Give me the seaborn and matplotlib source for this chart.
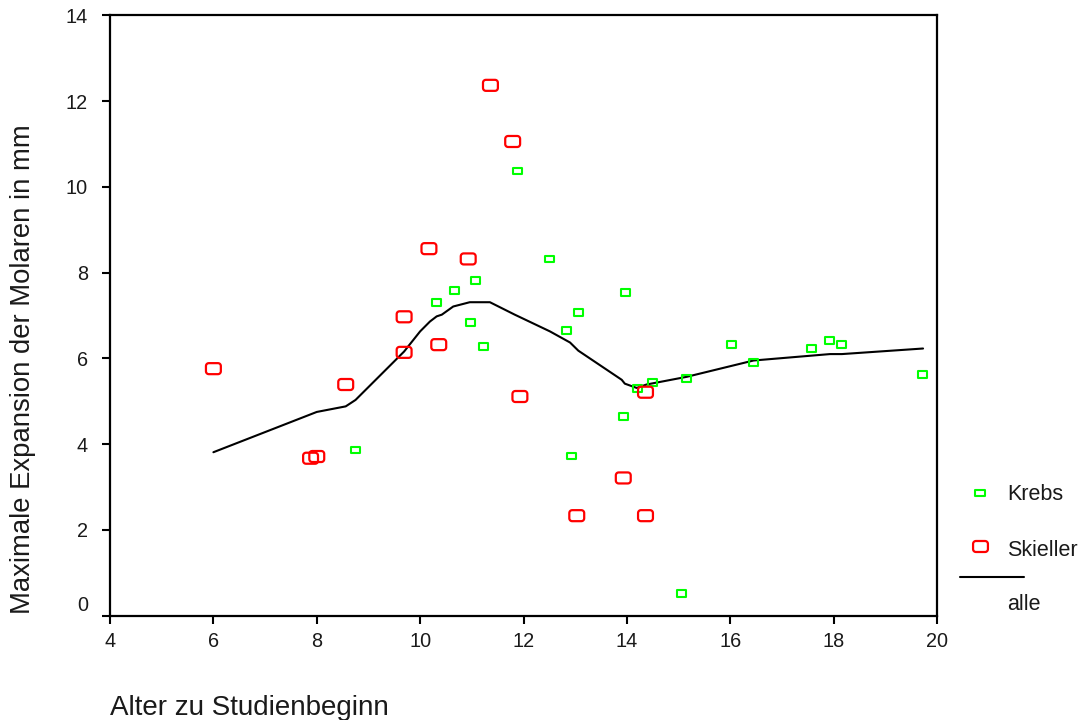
import numpy as np
import matplotlib
matplotlib.use('Agg')
import matplotlib.pyplot as plt
import seaborn as sns
from matplotlib.path import Path
from matplotlib.lines import Line2D
from matplotlib.transforms import ScaledTranslation

# Krebs (gruen)
krebs_x = [8.75, 10.32, 10.66, 10.98, 11.08, 11.22, 11.89, 12.50, 12.84, 12.93, 13.07, 13.93,
           13.98, 14.21, 14.50, 15.06, 15.16, 16.02, 16.45, 17.58, 17.92, 18.16, 19.72]
krebs_y = [3.86, 7.31, 7.58, 6.83, 7.82, 6.27, 10.37, 8.32, 6.65, 3.72, 7.07, 4.65,
           7.53, 5.30, 5.44, 0.51, 5.53, 6.33, 5.91, 6.23, 6.42, 6.33, 5.63]

# Skieller (rot)
skieller_x = [6.00, 7.88, 8.00, 8.56, 9.69, 9.69, 10.17, 10.36, 10.93, 11.36, 11.79, 11.93,
              13.03, 13.93, 14.36, 14.36]
skieller_y = [5.76, 3.67, 3.71, 5.39, 6.97, 6.14, 8.56, 6.32, 8.32, 12.37, 11.06, 5.11,
              2.33, 3.21, 2.33, 5.21]

# alle (Glaettungslinie)
alle_x = [6.00, 8.00, 8.56, 8.75, 9.69, 10.00, 10.19, 10.32, 10.42, 10.64, 10.96, 11.35,
          11.83, 11.90, 12.51, 12.90, 13.06, 13.90, 13.96, 14.19, 14.38, 15.16, 16.45,
          17.93, 18.16, 19.73]
alle_y = [3.81, 4.75, 4.88, 5.03, 6.16, 6.63, 6.86, 6.98, 7.02, 7.21, 7.31, 7.31,
          7.02, 6.98, 6.63, 6.37, 6.18, 5.50, 5.41, 5.31, 5.39, 5.57, 5.95,
          6.10, 6.10, 6.23]

x_ticks = [4, 6, 8, 10, 12, 14, 16, 18, 20]
y_ticks = [0, 2, 4, 6, 8, 10, 12, 14]


def rect_marker(hw, hh):
    verts = [(-hw, -hh), (hw, -hh), (hw, hh), (-hw, hh), (-hw, -hh)]
    return Path(verts, [Path.MOVETO] + [Path.LINETO] * 3 + [Path.CLOSEPOLY])


def rounded_marker(hw, hh, r, n=6):
    verts = []
    corners = [(hw - r, -hh + r, -90), (hw - r, hh - r, 0), (-hw + r, hh - r, 90), (-hw + r, -hh + r, 180)]
    for cx, cy, a0 in corners:
        for t in np.linspace(a0, a0 + 90, n):
            verts.append((cx + r * np.cos(np.radians(t)), cy + r * np.sin(np.radians(t))))
    verts.append(verts[0])
    codes = [Path.MOVETO] + [Path.LINETO] * (len(verts) - 2) + [Path.CLOSEPOLY]
    return Path(verts, codes)


sq = rect_marker(1.0, 0.75)
rr = rounded_marker(1.0, 0.74, 0.38)
green = '#00ff00'
red = '#ff0000'
txt = '#1a1a1a'

sns.set_style('white')
plt.rcParams['font.family'] = ['Liberation Sans', 'DejaVu Sans']

fig = plt.figure(figsize=(10.84, 7.2), dpi=100)
ax = fig.add_axes([0.1015, 0.1451, 0.7629, 0.8334])

sns.lineplot(x=alle_x, y=alle_y, color='black', linewidth=1.5, estimator=None, sort=False, ax=ax)
sns.scatterplot(x=krebs_x, y=krebs_y, marker=sq, s=42, facecolor='none', edgecolor=green,
                linewidth=1.5, ax=ax, zorder=3)
sns.scatterplot(x=skieller_x, y=skieller_y, marker=rr, s=115, facecolor='none', edgecolor=red,
                linewidth=1.6, ax=ax, zorder=3)

ax.set_xlim(4, 20)
ax.set_ylim(0, 14)
ax.set_xticks(x_ticks)
ax.set_yticks(y_ticks)
for side in ['top', 'right', 'left', 'bottom']:
    ax.spines[side].set_visible(True)
    ax.spines[side].set_color('black')
    ax.spines[side].set_linewidth(1.6)
ax.tick_params(axis='both', direction='out', length=5.8, width=1.5, color='black',
               labelsize=14.3, labelcolor=txt, bottom=True, left=True, top=False, right=False)
ax.tick_params(axis='x', pad=6)
ax.tick_params(axis='y', pad=10)

# SPSS schiebt die 0 etwas nach oben
fig.canvas.draw()
lab0 = ax.get_yticklabels()[0]
lab0.set_transform(lab0.get_transform() + ScaledTranslation(0, 0.12, fig.dpi_scale_trans))

ax.set_xlabel('Alter zu Studienbeginn', fontsize=20, color=txt, ha='left', va='baseline')
ax.xaxis.set_label_coords(0.0, -0.1658)
ax.set_ylabel('Maximale Expansion der Molaren in mm', fontsize=19.8, color=txt)
ax.yaxis.set_label_coords(-0.089, 0.41)

# Legende im SPSS-Stil
W, H = 1084.0, 720.0
fig.add_artist(Line2D([980 / W], [1 - 493 / H], marker=sq, markersize=6.5, markerfacecolor='none',
                      markeredgecolor=green, markeredgewidth=1.5, linestyle='none',
                      transform=fig.transFigure))
fig.add_artist(Line2D([980 / W], [1 - 546 / H], marker=rr, markersize=10.7, markerfacecolor='none',
                      markeredgecolor=red, markeredgewidth=1.6, linestyle='none',
                      transform=fig.transFigure))
fig.add_artist(Line2D([960 / W, 1024 / W], [1 - 577 / H, 1 - 577 / H], color='black', linewidth=1.5,
                      transform=fig.transFigure))
fig.text(1007 / W, 1 - 495 / H, 'Krebs', fontsize=15.5, color=txt, va='center', ha='left')
fig.text(1007 / W, 1 - 550 / H, 'Skieller', fontsize=15.5, color=txt, va='center', ha='left')
fig.text(1007 / W, 1 - 605 / H, 'alle', fontsize=15.5, color=txt, va='center', ha='left')

fig.savefig('out.png', dpi=100)
plt.close('all')
